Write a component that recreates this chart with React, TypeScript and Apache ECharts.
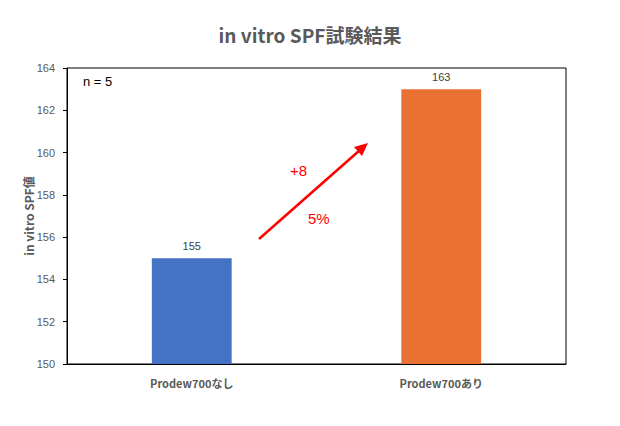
import React, { useEffect, useRef } from "react";
import * as echarts from "echarts";

const categories = ["Prodew700なし", "Prodew700あり"];
const spfValues = [155, 163];
const barColors = ["#4472C4", "#E97132"];
const yMin = 150;
const yMax = 164;
const yInterval = 2;

export default function App() {
  const ref = useRef<HTMLDivElement>(null);
  useEffect(() => {
    if (!ref.current) return;
    const chart = echarts.init(ref.current, undefined, { renderer: "svg" });
    const tickFont = "'Liberation Sans Narrow', 'Liberation Sans', 'Noto Sans CJK JP', sans-serif";
    const jpFont = "'Noto Sans CJK JP', sans-serif";
    chart.setOption({
      animation: false,
      backgroundColor: "#ffffff",
      title: {
        text: "in vitro SPF試験結果",
        left: "center",
        top: 20,
        textStyle: { fontFamily: jpFont, fontSize: 19, fontWeight: "bold", color: "#595959" },
      },
      grid: {
        left: 67,
        right: 54,
        top: 68,
        bottom: 62,
        show: true,
        borderColor: "#000000",
        borderWidth: 1,
        containLabel: false,
      },
      xAxis: {
        type: "category",
        data: categories,
        axisLine: { show: true, lineStyle: { color: "#000000", width: 1 } },
        axisTick: { show: false },
        axisLabel: {
          margin: 13,
          fontFamily: jpFont,
          fontSize: 11,
          fontWeight: "bold",
          color: "#595959",
        },
      },
      yAxis: {
        type: "value",
        min: yMin,
        max: yMax,
        interval: yInterval,
        name: "in vitro SPF値",
        nameLocation: "middle",
        nameGap: 33,
        nameMoveOverlap: false,
        nameRotate: 90,
        nameTextStyle: { fontFamily: jpFont, fontSize: 12, fontWeight: "bold", color: "#595959" },
        axisLine: { show: true, lineStyle: { color: "#000000", width: 1 } },
        axisTick: { show: true, inside: false, length: 4, lineStyle: { color: "#000000" } },
        splitLine: { show: false },
        axisLabel: { fontFamily: tickFont, fontSize: 11, color: "#595959", margin: 12 },
      },
      series: [
        {
          type: "bar",
          barWidth: "32%",
          data: spfValues.map((v, i) => ({ value: v, itemStyle: { color: barColors[i] } })),
          label: {
            show: true,
            position: "top",
            distance: 7,
            fontFamily: tickFont,
            fontSize: 11,
            color: "#404040",
          },
        },
      ],
      graphic: [
        {
          type: "text",
          left: 83,
          top: 75,
          style: { text: "n = 5", fontFamily: tickFont, fontSize: 13, fill: "#000000" },
        },
        {
          type: "line",
          shape: { x1: 259, y1: 239, x2: 360, y2: 150 },
          style: { stroke: "#FF0000", lineWidth: 2.5 },
        },
        {
          type: "polygon",
          shape: { points: [[368, 143], [354, 147], [362, 156]] },
          style: { fill: "#FF0000" },
        },
        {
          type: "text",
          left: 290,
          top: 163,
          style: { text: "+8", fontFamily: "'Liberation Sans', sans-serif", fontSize: 15, fill: "#FF0000" },
        },
        {
          type: "text",
          left: 308,
          top: 211,
          style: { text: "5%", fontFamily: "'Liberation Sans', sans-serif", fontSize: 15, fill: "#FF0000" },
        },
      ],
    });
    return () => chart.dispose();
  }, []);
  return (
    <div
      ref={ref}
      style={{ position: "fixed", left: 0, top: 0, width: 620, height: 426, background: "#fff" }}
    />
  );
}
